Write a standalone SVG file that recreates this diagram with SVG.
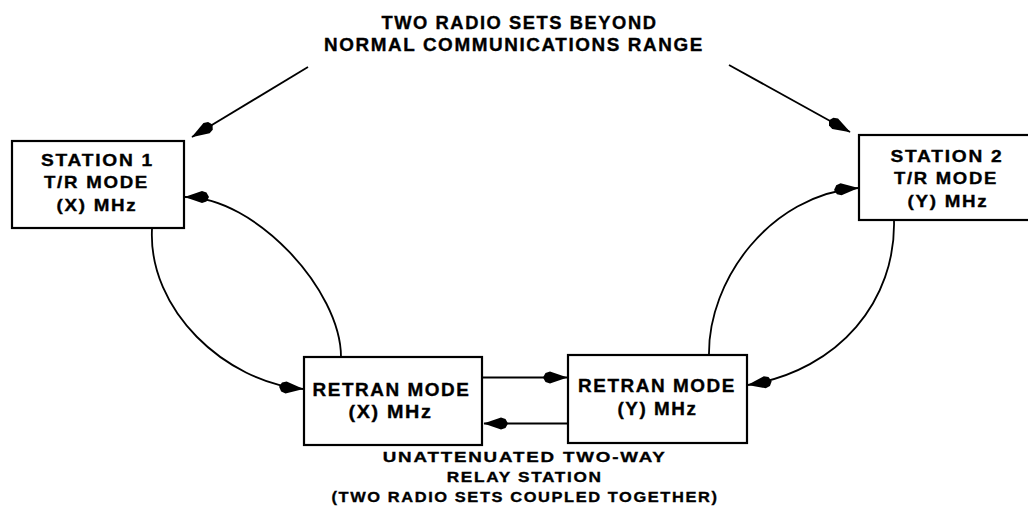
<svg xmlns="http://www.w3.org/2000/svg" width="1028" height="523" viewBox="0 0 1028 523">
  <style>
    .box { fill: #ffffff; stroke: #000000; stroke-width: 2.2; }
    .wire { fill: none; stroke: #000000; stroke-width: 1.8; }
    text { font-family: "Liberation Sans", Arial, Helvetica, sans-serif; font-weight: bold; fill: #000000; stroke: #000000; stroke-width: 0.35; text-anchor: middle; letter-spacing: 1.5px; }
    .title { font-size: 17.5px; }
    .st { font-size: 16.3px; }
    .rt { font-size: 18.3px; }
    .note { font-size: 15.5px; }
  </style>
  <defs>
    <!-- long filled arrowhead with a blunt tail, tip at the path end -->
    <marker id="head" viewBox="-25 -7 26 14" refX="0" refY="0" markerWidth="26" markerHeight="14" markerUnits="userSpaceOnUse" orient="auto">
      <path d="M0.5,0 L-17,-6 L-21.5,-4.5 L-24,0 L-21.5,4.5 L-17,6 Z" fill="#000000"/>
    </marker>
  </defs>

  <!-- heading -->
  <g id="heading">
    <text class="title" x="519.5" y="29" textLength="276" lengthAdjust="spacingAndGlyphs">TWO RADIO SETS BEYOND</text>
    <text class="title" x="514" y="51" textLength="380" lengthAdjust="spacingAndGlyphs">NORMAL COMMUNICATIONS RANGE</text>
  </g>

  <!-- connectors -->
  <g id="connectors">
    <path class="wire" d="M308,67 L192,137" marker-end="url(#head)"/>
    <path class="wire" d="M729,65 L850,132" marker-end="url(#head)"/>
    <!-- station 1 <-> retran X loop -->
    <path class="wire" d="M152,229 C148,310 225,382 303,389" marker-end="url(#head)"/>
    <path class="wire" d="M341,357 C341,290 255,197 185,197" marker-end="url(#head)"/>
    <!-- station 2 <-> retran Y loop -->
    <path class="wire" d="M709,355 C708,280 770,195 858,188" marker-end="url(#head)"/>
    <path class="wire" d="M894,220 C896,300 840,370 748,385" marker-end="url(#head)"/>
    <!-- coupling between the two relay sets -->
    <path class="wire" d="M483,377.5 L567,377.5" marker-end="url(#head)"/>
    <path class="wire" d="M568,423.5 L484,423.5" marker-end="url(#head)"/>
  </g>

  <g id="station1">
    <rect class="box" x="12" y="141" width="172" height="87"/>
    <text class="st" x="97.5" y="166" textLength="113" lengthAdjust="spacingAndGlyphs">STATION 1</text>
    <text class="st" x="96.5" y="188" textLength="105" lengthAdjust="spacingAndGlyphs">T/R MODE</text>
    <text class="st" x="97" y="210.5" textLength="81" lengthAdjust="spacingAndGlyphs">(X) MHz</text>
  </g>

  <g id="station2">
    <rect class="box" x="859" y="135" width="176" height="85"/>
    <text class="st" x="947" y="161.5" textLength="113" lengthAdjust="spacingAndGlyphs">STATION 2</text>
    <text class="st" x="946" y="184" textLength="104" lengthAdjust="spacingAndGlyphs">T/R MODE</text>
    <text class="st" x="948" y="206.5" textLength="81" lengthAdjust="spacingAndGlyphs">(Y) MHz</text>
  </g>

  <g id="retranX">
    <rect class="box" x="304" y="357" width="178" height="88"/>
    <text class="rt" x="391.5" y="395.5" textLength="158" lengthAdjust="spacingAndGlyphs">RETRAN MODE</text>
    <text class="rt" x="390.5" y="417.5" textLength="84" lengthAdjust="spacingAndGlyphs">(X) MHz</text>
  </g>

  <g id="retranY">
    <rect class="box" x="568" y="355" width="179" height="88"/>
    <text class="rt" x="657" y="392" textLength="158" lengthAdjust="spacingAndGlyphs">RETRAN MODE</text>
    <text class="rt" x="657.5" y="414.5" textLength="80" lengthAdjust="spacingAndGlyphs">(Y) MHz</text>
  </g>

  <g id="relay-note">
    <text class="note" x="524.7" y="462" textLength="284" lengthAdjust="spacingAndGlyphs">UNATTENUATED TWO-WAY</text>
    <text class="note" x="524.7" y="482" textLength="156" lengthAdjust="spacingAndGlyphs">RELAY STATION</text>
    <text class="note" x="525" y="502" textLength="387" lengthAdjust="spacingAndGlyphs">(TWO RADIO SETS COUPLED TOGETHER)</text>
  </g>
</svg>
